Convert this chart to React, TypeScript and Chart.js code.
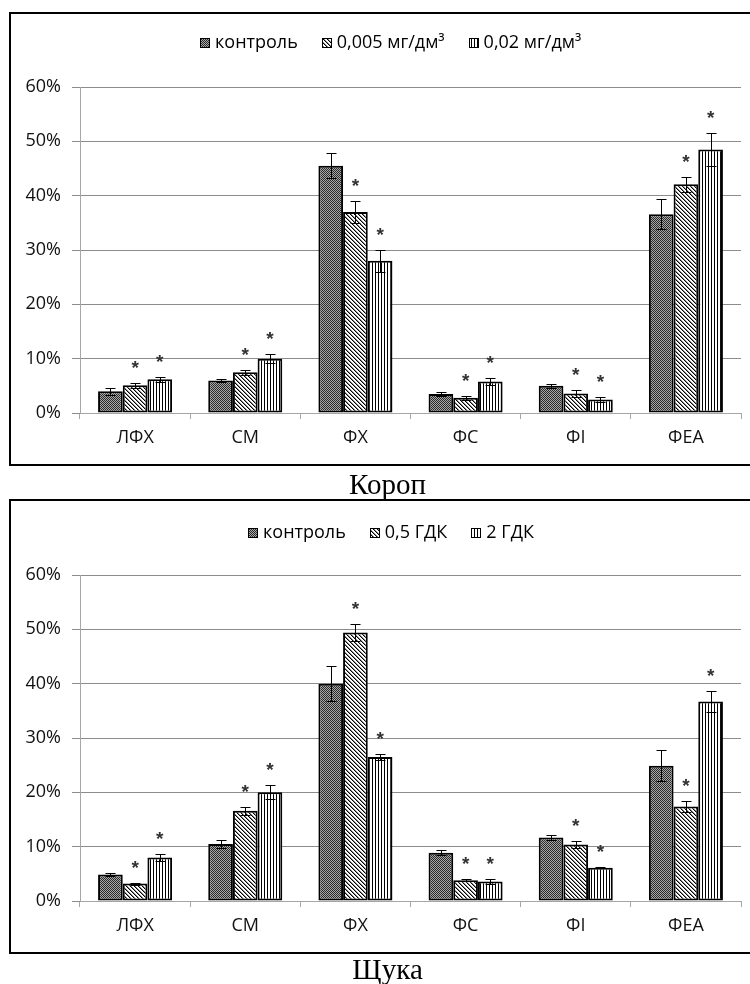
import React, { useEffect, useRef } from 'react';
import { Chart, registerables } from 'chart.js';

Chart.register(...registerables);

// ---------- data ----------
const categories = ['ЛФХ', 'СМ', 'ФХ', 'ФС', 'ФІ', 'ФЕА'];
const yTickMax = 60;
const yTickStep = 10;

// Короп (carp)
const carpSeriesLabels = ['контроль', '0,005 мг/дм³', '0,02 мг/дм³'];
const carpControl = [4.0, 6.0, 45.5, 3.5, 5.0, 36.6];
const carpControlErr = [0.6, 0.3, 2.3, 0.4, 0.4, 2.7];
const carpLow = [5.1, 7.5, 37.0, 2.8, 3.6, 42.1];
const carpLowErr = [0.5, 0.5, 2.1, 0.4, 0.6, 1.4];
const carpHigh = [6.2, 10.0, 28.0, 5.8, 2.5, 48.5];
const carpHighErr = [0.5, 0.8, 2.0, 0.7, 0.5, 3.1];
const carpLowSig = [true, true, true, true, true, true];
const carpHighSig = [true, true, true, true, true, true];

// Щука (pike)
const pikeSeriesLabels = ['контроль', '0,5 ГДК', '2 ГДК'];
const pikeControl = [4.9, 10.5, 40.0, 8.9, 11.7, 24.9];
const pikeControlErr = [0.3, 0.7, 3.2, 0.4, 0.5, 2.9];
const pikeLow = [3.2, 16.6, 49.4, 3.8, 10.4, 17.4];
const pikeLowErr = [0.2, 0.7, 1.6, 0.2, 0.6, 1.0];
const pikeHigh = [8.0, 20.0, 26.5, 3.6, 6.1, 36.7];
const pikeHighErr = [0.6, 1.3, 0.5, 0.4, 0.1, 1.9];
const pikeLowSig = [true, true, true, true, true, true];
const pikeHighSig = [true, true, true, true, true, true];

const noSig = [false, false, false, false, false, false];

const carpCaption = 'Короп';
const pikeCaption = 'Щука';

// ---------- helpers ----------
const FONT = '"Open Sans", "DejaVu Sans", sans-serif';

function makePattern(ctx: CanvasRenderingContext2D, kind: string): CanvasPattern {
  const c = document.createElement('canvas');
  const g = c.getContext('2d')!;
  if (kind === 'dots') {
    c.width = 2; c.height = 2;
    g.fillStyle = '#a8a8a8'; g.fillRect(0, 0, 2, 2);
    g.fillStyle = '#2a2a2a'; g.fillRect(0, 0, 1, 1); g.fillRect(1, 1, 1, 1);
  } else if (kind === 'diag') {
    c.width = 4; c.height = 4;
    g.fillStyle = '#ffffff'; g.fillRect(0, 0, 4, 4);
    for (let i = 0; i < 4; i++) {
      g.fillStyle = '#000000'; g.fillRect(i, i, 1, 1);
      g.fillStyle = '#8a8a8a'; g.fillRect((i + 1) % 4, i, 1, 1);
    }
  } else {
    c.width = 3; c.height = 1;
    g.fillStyle = '#ffffff'; g.fillRect(0, 0, 3, 1);
    g.fillStyle = '#000000'; g.fillRect(0, 0, 1, 1);
  }
  return ctx.createPattern(c, 'repeat')!;
}

const patternLegend = {
  id: 'patternLegend',
  afterDraw(chart: any, _args: any, opts: any) {
    const ctx = chart.ctx as CanvasRenderingContext2D;
    ctx.save();
    ctx.font = `18px ${FONT}`;
    const box = 10, gap = 5, spacing = 24;
    const items = chart.data.datasets.map((ds: any) => ({
      label: ds.label, fill: ds.backgroundColor, w: ctx.measureText(ds.label).width,
    }));
    const total = items.reduce((s: number, it: any) => s + box + gap + it.w, 0) + spacing * (items.length - 1);
    let x = Math.round(opts.centerX - total / 2);
    for (const it of items) {
      const bx = Math.round(x);
      const by = Math.round(opts.y - box / 2);
      ctx.fillStyle = it.fill;
      ctx.fillRect(bx, by, box, box);
      ctx.strokeStyle = '#000';
      ctx.lineWidth = 1;
      ctx.strokeRect(bx + 0.5, by + 0.5, box - 1, box - 1);
      ctx.fillStyle = '#000';
      ctx.textBaseline = 'middle';
      ctx.textAlign = 'left';
      ctx.fillText(it.label, x + box + gap, opts.y);
      x += box + gap + it.w + spacing;
    }
    ctx.restore();
  },
};

const errorStars = {
  id: 'errorStars',
  afterDatasetsDraw(chart: any) {
    const ctx = chart.ctx as CanvasRenderingContext2D;
    const ys = chart.scales.y;
    ctx.save();
    chart.data.datasets.forEach((ds: any, i: number) => {
      const meta = chart.getDatasetMeta(i);
      meta.data.forEach((bar: any, j: number) => {
        const v = ds.data[j];
        const e = ds.errors[j];
        const top = Math.round(ys.getPixelForValue(v + e)) + 0.5;
        const bot = Math.round(ys.getPixelForValue(v - e)) + 0.5;
        const x = Math.round(bar.x) + 0.5;
        ctx.strokeStyle = '#000';
        ctx.lineWidth = 1;
        ctx.beginPath();
        ctx.moveTo(x, top); ctx.lineTo(x, bot);
        ctx.moveTo(x - 5, top); ctx.lineTo(x + 5, top);
        ctx.moveTo(x - 5, bot); ctx.lineTo(x + 5, bot);
        ctx.stroke();
        if (ds.significant[j]) {
          const size = 19;
          ctx.font = `bold ${size}px "Liberation Sans", Arial, sans-serif`;
          ctx.fillStyle = '#333';
          ctx.textAlign = 'center';
          ctx.textBaseline = 'alphabetic';
          ctx.fillText('*', bar.x, top - 20 + 0.575 * size);
        }
      });
    });
    ctx.restore();
  },
};

function BarChart(props: any) {
  const ref = useRef<HTMLCanvasElement>(null);
  useEffect(() => {
    const canvas = ref.current!;
    const ctx = canvas.getContext('2d')!;
    const pats = [makePattern(ctx, 'dots'), makePattern(ctx, 'diag'), makePattern(ctx, 'vert')];
    const datasets = props.series.map((s: any, i: number) => ({
      label: s.label,
      data: s.data,
      errors: s.errors,
      significant: s.sig,
      backgroundColor: pats[i],
      borderColor: '#000',
      borderWidth: 2,
      borderSkipped: false,
    }));
    const chart = new Chart(canvas, {
      type: 'bar',
      data: { labels: categories, datasets },
      options: {
        animation: false,
        responsive: false,
        maintainAspectRatio: false,
        devicePixelRatio: 1,
        layout: { padding: { left: 10, right: 9, top: 87, bottom: 17 } },
        datasets: { bar: { categoryPercentage: 0.672, barPercentage: 1 } },
        plugins: {
          legend: { display: false },
          tooltip: { enabled: false },
          patternLegend: { centerX: 391, y: props.legendY },
        } as any,
        scales: {
          x: {
            grid: { display: true, drawOnChartArea: false, drawTicks: true, tickLength: 6, color: '#a6a6a6', offset: true },
            border: { display: true, color: '#a6a6a6' },
            ticks: { font: { family: FONT, size: 18 }, color: '#111', padding: 8 },
            afterFit(s: any) { s.height = 40; },
          },
          y: {
            min: 0,
            max: yTickMax,
            ticks: {
              stepSize: yTickStep,
              callback: (v: any) => `${v}%`,
              font: { family: FONT, size: 18 },
              color: '#111',
              padding: 11,
            },
            grid: { color: '#8c8c8c', tickLength: 8 },
            border: { display: true, color: '#a6a6a6' },
            afterFit(s: any) { s.width = 70; },
          },
        },
      } as any,
      plugins: [patternLegend, errorStars],
    });
    return () => chart.destroy();
  }, []);
  return (
    <canvas
      ref={ref}
      width={750}
      height={470}
      style={{ position: 'absolute', left: 0, top: props.top, width: 750, height: 470 }}
    />
  );
}

const captionStyle: any = {
  position: 'absolute',
  left: 0,
  width: 775,
  textAlign: 'center',
  fontFamily: '"Liberation Serif", "Times New Roman", serif',
  fontSize: 29,
  lineHeight: '29px',
  color: '#000',
  whiteSpace: 'nowrap',
};

export default function App() {
  const carpSeries = [
    { label: carpSeriesLabels[0], data: carpControl, errors: carpControlErr, sig: noSig },
    { label: carpSeriesLabels[1], data: carpLow, errors: carpLowErr, sig: carpLowSig },
    { label: carpSeriesLabels[2], data: carpHigh, errors: carpHighErr, sig: carpHighSig },
  ];
  const pikeSeries = [
    { label: pikeSeriesLabels[0], data: pikeControl, errors: pikeControlErr, sig: noSig },
    { label: pikeSeriesLabels[1], data: pikeLow, errors: pikeLowErr, sig: pikeLowSig },
    { label: pikeSeriesLabels[2], data: pikeHigh, errors: pikeHighErr, sig: pikeHighSig },
  ];
  return (
    <div style={{ position: 'absolute', left: 0, top: 0, width: 750, height: 984, overflow: 'hidden', background: '#fff' }}>
      <BarChart series={carpSeries} top={0} legendY={43} />
      <BarChart series={pikeSeries} top={488} legendY={45} />
      <div style={{ position: 'absolute', left: 9, top: 12, width: 780, height: 450, border: '2px solid #000' }} />
      <div style={{ position: 'absolute', left: 9, top: 499, width: 780, height: 451, border: '2px solid #000' }} />
      <div style={{ ...captionStyle, top: 470 }}>{carpCaption}</div>
      <div style={{ ...captionStyle, top: 955 }}>{pikeCaption}</div>
    </div>
  );
}
